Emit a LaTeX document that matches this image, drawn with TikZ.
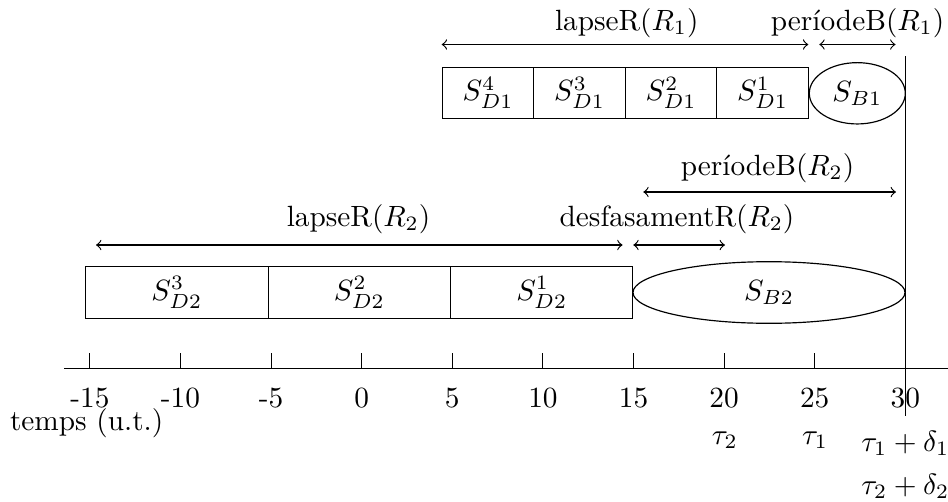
\documentclass[tikz,border=0pt]{standalone}
\usepackage{tikz}
\usetikzlibrary{shapes.geometric}
\newcommand\pxu{0.3413pt}
\tikzset{
  segbox/.style 2 args={draw, rectangle, inner sep=0pt, minimum width=#1*\pxu, minimum height=#2*\pxu},
  bell/.style 2 args={draw, ellipse, inner sep=0pt, minimum width=#1*\pxu, minimum height=#2*\pxu},
  dimline/.style={<->},
  lab/.style={anchor=base, inner sep=0pt},
  axtick/.style={draw},
}
\begin{document}
\begin{tikzpicture}[x=0.3413pt,y=-0.3413pt]
\useasboundingbox (0,0) rectangle (948,502);

% top row
\node[segbox={91.5}{50.6}] (d14) at (488.05,93) {$S_{D1}^4$};
\node[segbox={91.5}{50.6}] (d13) at (579.55,93) {$S_{D1}^3$};
\node[segbox={91.5}{50.6}] (d12) at (671.05,93) {$S_{D1}^2$};
\node[segbox={91.5}{50.6}] (d11) at (762.55,93) {$S_{D1}^1$};
\node[bell={96}{61.3}] (b1) at (857.3,93.3) {$S_{B1}$};

% bottom row
\node[segbox={182.4}{51.6}] (d23) at (176.9,292.5) {$S_{D2}^3$};
\node[segbox={182.4}{51.6}] (d22) at (359.3,292.5) {$S_{D2}^2$};
\node[segbox={182.4}{51.6}] (d21) at (541.7,292.5) {$S_{D2}^1$};
\node[bell={272}{61.6}] (b2) at (769,292.5) {$S_{B2}$};

% dimension arrows
\coordinate (l1a) at (441.7,44.5); \coordinate (l1b) at (808.3,44.5);
\draw[dimline] (l1a) -- (l1b);
\node[lab] (l1t) at (626.7,30.5) {lapseR($R_1$)};

\coordinate (p1a) at (819.3,44.5); \coordinate (p1b) at (895.5,44.5);
\draw[dimline] (p1a) -- (p1b);
\node[lab] (p1t) at (857.5,30.5) {períodeB($R_1$)};

\coordinate (p2a) at (643.3,192); \coordinate (p2b) at (896,192);
\draw[dimline] (p2a) -- (p2b);
\node[lab] (p2t) at (767.5,175) {períodeB($R_2$)};

\coordinate (l2a) at (96,245); \coordinate (l2b) at (622.6,245);
\draw[dimline] (l2a) -- (l2b);
\node[lab] (l2t) at (358.5,226) {lapseR($R_2$)};

\coordinate (f2a) at (633.3,245); \coordinate (f2b) at (725,245);
\draw[dimline] (f2a) -- (f2b);
\node[lab] (f2t) at (677,226) {desfasamentR($R_2$)};

% vertical line
\coordinate (vt) at (905.7,56); \coordinate (vb) at (905.7,416);
\draw (vt) -- (vb);

% axis
\coordinate (ax0) at (64,368.3); \coordinate (ax1) at (948,368.3);
\draw (ax0) -- (ax1);
\foreach \v in {-15,-10,...,30} {
  \draw[axtick] ({361.7+18.12*\v},353.3) -- ({361.7+18.12*\v},368.3);
  \node[lab] (tl\v) at ({361.7+18.12*\v},407) {\v};
}
\node[anchor=base west, inner sep=0pt] (unit) at (9.5,430) {temps (u.t.)};
\node[lab] (tau2) at (724.9,444) {$\tau_2$};
\node[lab] (tau1) at (815,444) {$\tau_1$};
\node[lab] (td1) at (905.3,451) {$\tau_1+\delta_1$};
\node[lab] (td2) at (905.3,494) {$\tau_2+\delta_2$};
\end{tikzpicture}
\end{document}
